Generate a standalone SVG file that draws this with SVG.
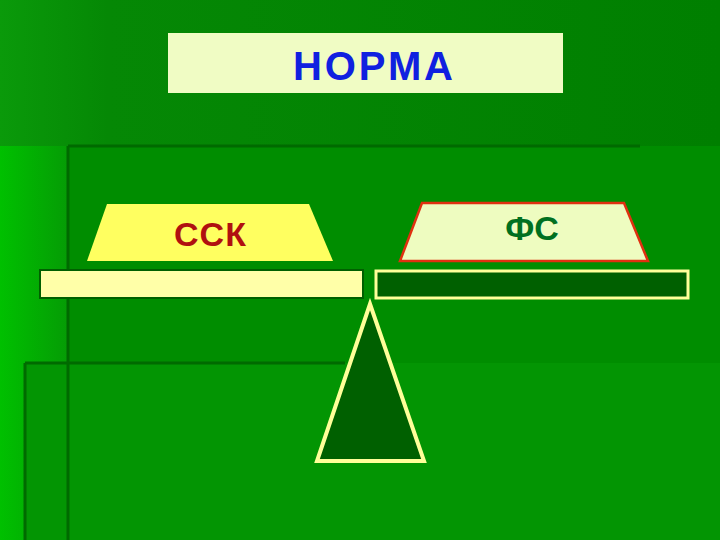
<svg xmlns="http://www.w3.org/2000/svg" width="720" height="540" viewBox="0 0 720 540">
<defs>
<linearGradient id="bg" x1="0" y1="0" x2="1" y2="0">
<stop offset="0" stop-color="#00c000"/><stop offset="0.1" stop-color="#059a05"/><stop offset="1" stop-color="#008a00"/>
</linearGradient>
<linearGradient id="top" x1="0" y1="0" x2="1" y2="0">
<stop offset="0" stop-color="#0a9a0a"/><stop offset="0.15" stop-color="#058805"/><stop offset="1" stop-color="#007f00"/>
</linearGradient>
</defs>
<style>
.t{font-family:"Liberation Sans",Arial,sans-serif;text-anchor:middle}
</style>
<rect width="720" height="540" fill="url(#bg)"/>
<rect x="0" y="0" width="720" height="146" fill="url(#top)"/>
<rect x="68" y="146" width="652" height="217" fill="#008d00"/>
<rect x="25" y="363" width="695" height="177" fill="#039503"/>
<g stroke="#006a00" stroke-width="3" fill="none">
<path d="M68 146H640M68 146V540"/>
<path d="M25 363H345M25 363V540"/>
</g>
<g id="title">
<rect x="168" y="33" width="395" height="60" fill="#f0fcc4"/>
<text class="t" x="373" y="80" font-size="40" font-weight="bold" fill="#1020e0" textLength="160">НОРМА</text>
</g>
<g id="ssk">
<polygon points="107,204 309,204 333,261 87,261" fill="#ffff60"/>
<text class="t" x="210" y="246" font-size="34" font-weight="bold" fill="#b01010" textLength="72">ССК</text>
</g>
<g id="fs">
<polygon points="422,203 624,203 648,261 400,261" fill="#eefcc0" stroke="#e03010" stroke-width="2.5"/>
<text class="t" x="532" y="240" font-size="34" font-weight="bold" fill="#007020">ФС</text>
</g>
<g id="beam">
<rect x="40" y="270" width="323" height="28" fill="#ffffa8" stroke="#006000" stroke-width="2"/>
<rect x="376" y="271" width="312" height="27" fill="#006000" stroke="#ffff99" stroke-width="3"/>
</g>
<g id="fulcrum">
<polygon points="370,304 424,461 317,461" fill="#006000" stroke="#ffff99" stroke-width="4"/>
</g>
</svg>
